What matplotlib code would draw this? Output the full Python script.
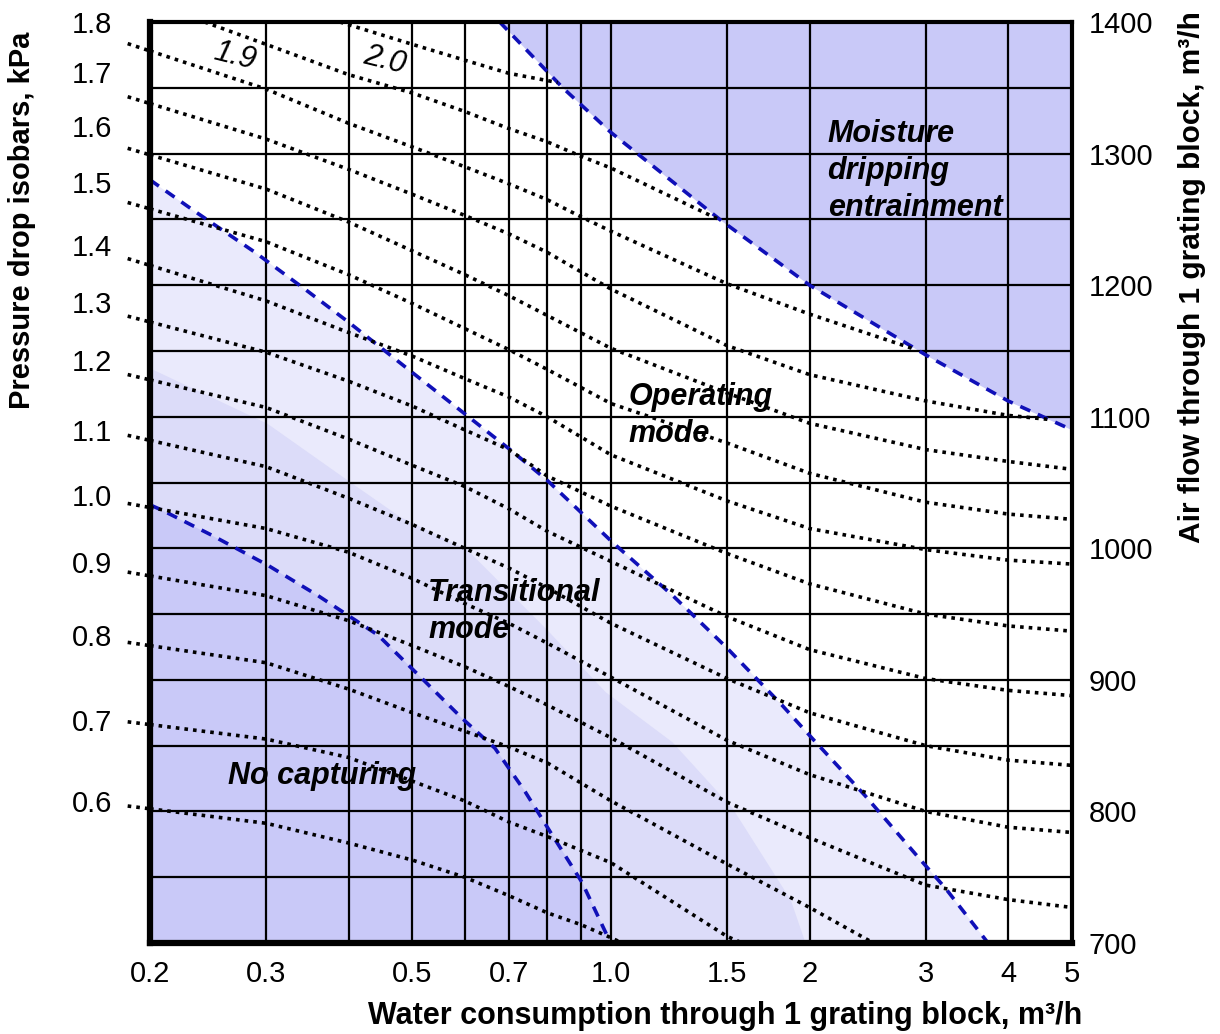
import numpy as np
import matplotlib.pyplot as plt
from matplotlib.ticker import FixedLocator, NullFormatter
from matplotlib.transforms import blended_transform_factory

plt.rcParams['font.family'] = ['Liberation Sans', 'DejaVu Sans']

# axes: water consumption (log x), air flow (y)
water_ticks = [0.2, 0.3, 0.5, 0.7, 1.0, 1.5, 2, 3, 4, 5]
water_tick_labels = ['0.2', '0.3', '0.5', '0.7', '1.0', '1.5', '2', '3', '4', '5']
water_grid = [0.2, 0.3, 0.4, 0.5, 0.6, 0.7, 0.8, 0.9, 1.0, 1.5, 2, 3, 4, 5]
air_ticks = [700, 800, 900, 1000, 1100, 1200, 1300, 1400]
air_grid = [700, 750, 800, 850, 900, 950, 1000, 1050, 1100, 1150, 1200, 1250, 1300, 1350, 1400]

# isobars (pressure drop, kPa)
w_full = [0.2, 0.3, 0.4, 0.5, 0.6, 0.7, 0.8, 1.0, 1.5, 2, 3, 4, 5]

w_p20 = [0.388, 0.5, 0.6, 0.7, 0.83]
g_p20 = [1400, 1383, 1371, 1361, 1354]
w_p19 = [0.242, 0.3, 0.4, 0.5, 0.6, 0.7, 0.8, 0.9, 1.0, 1.47]
g_p19 = [1400, 1383, 1360, 1346, 1332, 1319, 1309, 1298, 1289, 1249]
w_p18 = [0.2, 0.3, 0.4, 0.5, 0.6, 0.7, 0.8, 0.9, 1.0, 1.5, 2, 2.9]
g_p18 = [1378, 1349, 1323, 1305, 1290, 1277, 1265, 1252, 1241, 1201, 1178, 1151]
w_p17 = [0.2, 0.3, 0.4, 0.5, 0.6, 0.7, 0.8, 1.0, 1.5, 2, 3, 4, 4.6]
g_p17 = [1338, 1311, 1288, 1269, 1253, 1239, 1225, 1197, 1154, 1132, 1112, 1101, 1098]
g_p16 = [1299, 1273, 1248, 1226, 1208, 1192, 1177, 1152, 1118, 1095, 1075, 1066, 1060]
g_p15 = [1258, 1233, 1208, 1186, 1167, 1151, 1136, 1110, 1080, 1057, 1035, 1026, 1022]
g_p14 = [1215, 1188, 1164, 1146, 1129, 1115, 1100, 1071, 1036, 1015, 999, 991, 988]
g_p13 = [1172, 1149, 1127, 1108, 1090, 1075, 1055, 1032, 996, 973, 950, 941, 937]
g_p12 = [1128, 1107, 1083, 1063, 1047, 1030, 1013, 990, 948, 923, 901, 892, 888]
g_p11 = [1082, 1062, 1038, 1018, 1000, 985, 970, 943, 901, 875, 850, 839, 835]
g_p10 = [1031, 1015, 997, 977, 958, 943, 928, 902, 854, 828, 800, 788, 784]
g_p09 = [979, 964, 945, 926, 910, 895, 881, 856, 807, 780, 744, 733, 727]
w_p08 = [0.2, 0.3, 0.4, 0.5, 0.6, 0.7, 0.8, 1.0, 1.5, 2, 2.5]
g_p08 = [926, 913, 893, 875, 861, 849, 837, 808, 760, 727, 700]
w_p07 = [0.2, 0.3, 0.4, 0.5, 0.6, 0.7, 0.8, 1.0, 1.5, 1.58]
g_p07 = [866, 855, 841, 823, 808, 792, 781, 761, 705, 700]
w_p06 = [0.2, 0.3, 0.4, 0.5, 0.6, 0.7, 0.8, 0.9, 1.0, 1.04]
g_p06 = [802, 791, 776, 763, 750, 736, 723, 714, 704, 700]

# isobar labels at the left side
dp_labels = ['1.8', '1.7', '1.6', '1.5', '1.4', '1.3', '1.2', '1.1', '1.0', '0.9', '0.8', '0.7', '0.6']
dp_label_air = [1398, 1360, 1319, 1276, 1228, 1185, 1141, 1088, 1038, 987, 932, 867, 806]

# mode boundaries
drip_w = [0.678, 0.845, 1.0, 1.47, 2, 3, 4, 5]
drip_air = [1400, 1350, 1316, 1249, 1200, 1147, 1112, 1090]
oper_w = [0.2, 0.234, 0.2885, 0.3476, 0.3997, 0.5044, 0.587, 0.703, 0.799, 1.008,
          1.241, 1.494, 1.815, 2.015, 2.428, 2.96, 3.21, 3.73]
oper_air = [1280, 1256, 1225, 1195, 1172, 1132, 1106, 1075, 1052, 1004,
            964, 925, 881, 856, 812, 762, 742, 700]
soft_w = [0.2, 0.301, 0.406, 0.479, 0.605, 0.8, 0.98, 1.237, 1.525, 1.87, 1.97]
soft_air = [1137, 1095, 1049, 1024, 999, 938, 891, 853, 803, 733, 700]
nocap_w = [0.2, 0.2085, 0.248, 0.302, 0.3596, 0.4434, 0.517, 0.594, 0.667, 0.741,
           0.803, 0.904, 0.99, 1.0]
nocap_air = [1033, 1029, 1010, 987, 964, 934, 901, 871, 848, 815, 787, 746, 704, 700]

isobars = [
    (w_p20, g_p20), (w_p19, g_p19), (w_p18, g_p18), (w_p17, g_p17),
    (w_full, g_p16), (w_full, g_p15), (w_full, g_p14), (w_full, g_p13),
    (w_full, g_p12), (w_full, g_p11), (w_full, g_p10), (w_full, g_p09),
    (w_p08, g_p08), (w_p07, g_p07), (w_p06, g_p06),
]

dark = '#c9c9f8'
medium = '#dcdcf9'
light = '#eaeafc'
blue = '#1010b8'

fig = plt.figure(figsize=(12.2, 10.34), dpi=100)
ax = fig.add_axes([150 / 1220, 91 / 1034, 922 / 1220, 921 / 1034])
ax.set_xscale('log')
ax.set_xlim(0.2, 5)
ax.set_ylim(700, 1400)

# regions
ax.fill_between(oper_w, oper_air, 700, color=light, lw=0, zorder=0.5)
ax.fill_between(soft_w, soft_air, 700, color=medium, lw=0, zorder=0.6)
ax.fill_between(nocap_w, nocap_air, 700, color=dark, lw=0, zorder=0.7)
ax.fill_between(drip_w, drip_air, 1400, color=dark, lw=0, zorder=0.7)

# grid
ax.xaxis.set_major_locator(FixedLocator(water_ticks))
ax.xaxis.set_minor_locator(FixedLocator(water_grid))
ax.xaxis.set_minor_formatter(NullFormatter())
ax.set_xticklabels(water_tick_labels)
ax.yaxis.set_major_locator(FixedLocator(air_ticks))
ax.yaxis.set_minor_locator(FixedLocator(air_grid))
ax.grid(which='both', color='black', lw=1.6, zorder=1)
ax.set_axisbelow(False)
ax.yaxis.tick_right()
ax.tick_params(which='both', length=0, labelsize=21)
ax.tick_params(axis='x', pad=12)
ax.tick_params(axis='y', pad=12)
for side, s in ax.spines.items():
    s.set_linewidth(4.5 if side in ('left', 'bottom') else 3)
    s.set_zorder(5)

# dashed boundaries
for bw, ba in [(drip_w, drip_air), (oper_w, oper_air), (nocap_w, nocap_air)]:
    ax.plot(bw, ba, color=blue, lw=2.6, dashes=(3, 2.3), zorder=3)

# isobars
for w, g in isobars:
    ax.plot(w, g, color='black', lw=2.6, linestyle=(0, (1, 1.4)), zorder=4)
    if w[0] == 0.2:
        # short stub outside the frame on the left
        k = np.log(0.2 / 0.185) / np.log(w[1] / w[0])
        g0 = g[0] + (g[0] - g[1]) * k
        ax.plot([0.185, 0.2], [g0, g[0]], color='black', lw=2.6,
                linestyle=(0, (1, 1.4)), clip_on=False, zorder=4)

tr = blended_transform_factory(ax.transAxes, ax.transData)
for lab, a in zip(dp_labels, dp_label_air):
    ax.text(-0.041, a, lab, transform=tr, ha='right', va='center', fontsize=21)

ax.text(0.269, 1374, '1.9', fontsize=22, style='italic', rotation=-14,
        ha='center', va='center', zorder=6)
ax.text(0.454, 1371, '2.0', fontsize=22, style='italic', rotation=-14,
        ha='center', va='center', zorder=6)

# mode labels
lab_kw = dict(fontsize=22, fontweight='bold', style='italic', ha='left',
              va='center', zorder=6, linespacing=1.3)
ax.text(2.13, 1287, 'Moisture\ndripping\nentrainment', **lab_kw)
ax.text(1.062, 1101, 'Operating\nmode', **lab_kw)
ax.text(0.528, 952, 'Transitional\nmode', **lab_kw)
ax.text(0.2626, 827, 'No capturing', **lab_kw)

fig.text(1082 / 1220, 1 - 1016 / 1034, 'Water consumption through 1 grating block, m³/h',
         ha='right', va='center', fontsize=22, fontweight='bold')
fig.text(22 / 1220, 1 - 220 / 1034, 'Pressure drop isobars, kPa', rotation=90,
         ha='center', va='center', fontsize=21, fontweight='bold')
fig.text(1192 / 1220, 1 - 277 / 1034, 'Air flow through 1 grating block, m³/h', rotation=90,
         ha='center', va='center', fontsize=21.5, fontweight='bold')

fig.savefig('out.png', dpi=100)
